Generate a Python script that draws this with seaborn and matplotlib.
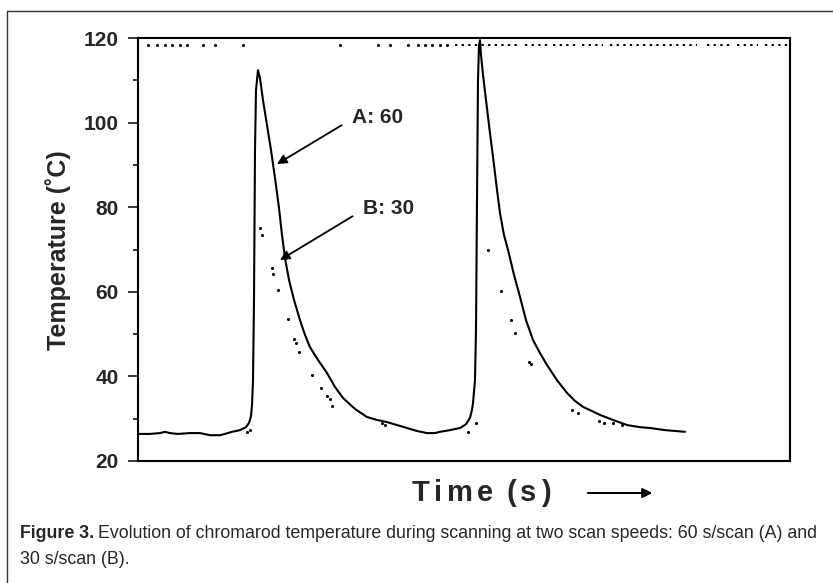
import numpy as np
import pandas as pd
import seaborn as sns
import matplotlib.pyplot as plt
from matplotlib import font_manager
from matplotlib.lines import Line2D

# curve A : 60 s/scan (solid trace)
time_a = [0, 2.4, 4.4, 5.4, 6.4, 8.0, 10.4, 12.4, 14.4, 16.4, 17.4, 18.8, 20.4, 21.6, 22.2,
          22.6, 22.8, 23.0, 23.2, 23.4, 23.6, 24.0, 24.4, 25.0, 25.8, 26.6, 27.4, 28.2, 28.8,
          29.4, 30.2, 31.2, 32.4, 33.4, 34.4, 36.0, 37.8, 39.4, 41.0, 43.4, 45.8, 47.8, 49.8,
          51.8, 53.8, 55.8, 57.8, 59.4, 60.4, 62.4, 64.4, 65.6, 66.4, 66.8, 67.0, 67.4, 67.6,
          67.8, 68.0, 68.2, 68.4, 68.6, 69.0, 69.6, 70.4, 71.2, 71.8, 72.4, 73.2, 74.0, 75.2,
          76.4, 77.6, 79.0, 80.4, 81.8, 83.8, 85.8, 87.4, 89.0, 90.8, 92.4, 95.0, 97.8, 100.4,
          102.4, 105.4, 107.4, 109.4]
temp_a = [26.4, 26.4, 26.6, 26.9, 26.6, 26.4, 26.6, 26.6, 26.1, 26.1, 26.4, 26.9, 27.3, 28.0, 29.0,
          30.6, 33.2, 39.1, 58.1, 93.5, 107.7, 112.4, 110.5, 105.3, 99.4, 93.5, 86.9, 79.8, 73.4,
          68.0, 62.8, 58.1, 53.3, 49.8, 46.9, 43.9, 40.8, 37.5, 34.9, 32.3, 30.4, 29.7, 29.2,
          28.5, 27.8, 27.1, 26.6, 26.6, 26.9, 27.3, 27.8, 28.7, 30.2, 32.1, 33.7, 39.1, 50.9,
          81.7, 110.1, 118.3, 119.5, 116.0, 111.3, 105.3, 97.5, 90.0, 84.1, 78.6, 73.4, 69.9, 64.0,
          58.8, 53.3, 48.6, 45.5, 42.7, 39.1, 36.1, 34.2, 32.8, 31.8, 30.9, 29.7, 28.5, 28.0,
          27.8, 27.3, 27.1, 26.9]

# curve B : 30 s/scan (dots)
time_b = [21.8, 22.4, 24.4, 24.8, 26.8, 27.0, 28.0, 30.0, 31.2, 31.6, 32.2, 34.8, 36.6, 37.8,
          38.4, 38.8, 48.8, 49.4, 66.0, 67.6, 70.0, 72.6, 74.6, 75.4, 78.2, 78.6, 86.8, 88.0,
          92.2, 93.2, 95.0, 96.8]
temp_b = [26.9, 27.3, 75.1, 73.4, 65.6, 64.2, 60.4, 53.6, 48.8, 47.9, 45.8, 40.3, 37.3, 35.4,
          34.7, 33.0, 29.0, 28.5, 26.9, 29.0, 69.9, 60.2, 53.3, 50.3, 43.4, 42.9, 32.1, 31.3,
          29.4, 29.0, 29.0, 28.5]

# off-scale dots of B along the top
top_level = 118.3
top_single = [2.0, 3.8, 5.4, 6.8, 8.4, 9.8, 13.0, 15.4, 21.0, 40.4, 48.0, 50.4, 54.0, 56.0,
              57.4, 58.8, 60.4, 61.8]
top_seg_start = [63.4, 77.4, 83.0, 88.8, 94.4, 113.8, 119.8, 125.4]
top_seg_end = [75.8, 82.4, 87.8, 93.0, 111.8, 118.4, 124.0, 130.0]

y_ticks = [20, 40, 60, 80, 100, 120]
y_minor = [30, 50, 70, 90, 110]

sns.set_theme(style='white')
plt.rcParams['font.family'] = ['Liberation Sans', 'DejaVu Sans']

fig = plt.figure(figsize=(8.33, 5.83), dpi=100)
ax = fig.add_axes([138 / 833, 1 - 461 / 583, 652 / 833, 423 / 583])

sns.lineplot(x=time_a, y=temp_a, sort=False, estimator=None, color='black', lw=1.5, ax=ax)
sns.scatterplot(x=time_b, y=temp_b, color='black', s=5, linewidth=0, ax=ax)
sns.scatterplot(x=top_single, y=[top_level] * len(top_single), color='black', s=5, linewidth=0, ax=ax)
ax.hlines([top_level] * len(top_seg_start), top_seg_start, top_seg_end, colors='black',
          linestyles=(0, (1.2, 2.2)), lw=1.4)

ax.set_xlim(0, 130.4)
ax.set_ylim(20, 120)
ax.set_xticks([])
ax.set_yticks(y_ticks)
ax.set_yticks(y_minor, minor=True)
ax.tick_params(axis='y', which='major', direction='out', length=7, width=1.1, pad=7,
               left=True, labelsize=15, color='black')
ax.tick_params(axis='y', which='minor', direction='out', length=3.5, width=1.1, left=True, color='black')
for lab in ax.get_yticklabels():
    lab.set_fontweight('bold')
for sp in ax.spines.values():
    sp.set_color('black')
    sp.set_linewidth(1.5)
ax.set_xlabel('')
ax.set_ylabel('')

# annotations
ax.annotate('A: 60', xy=(27.8, 90.2), xytext=(42.8, 101.3), fontsize=15, fontweight='bold',
            va='center', ha='left',
            arrowprops=dict(arrowstyle='-|>', color='black', lw=1.3, mutation_scale=14,
                            shrinkA=6, shrinkB=0, relpos=(0, 0.4)))
ax.annotate('B: 30', xy=(28.4, 67.5), xytext=(45.0, 79.8), fontsize=15, fontweight='bold',
            va='center', ha='left',
            arrowprops=dict(arrowstyle='-|>', color='black', lw=1.3, mutation_scale=14,
                            shrinkA=6, shrinkB=0, relpos=(0, 0.4)))

# axis titles
fig.text(58 / 833, 1 - 250 / 583, 'Temperature (˚C)', rotation=90, fontsize=18,
         fontweight='bold', ha='center', va='center')

renderer = fig.canvas.get_renderer()

# "Time (s)" is slightly letter-spaced in the original
x_px = 412
for ch in 'Time (s)':
    t = fig.text(x_px / 833, 1 - 493 / 583, ch, fontsize=21, fontweight='bold',
                 ha='left', va='center')
    w = t.get_window_extent(renderer).width if ch != ' ' else 8
    x_px += w + (4.5 if ch != ' ' else 0)
fig.add_artist(plt.annotate('', xy=(652 / 833, 1 - 493 / 583), xytext=(588 / 833, 1 - 493 / 583),
                            xycoords='figure fraction', textcoords='figure fraction',
                            arrowprops=dict(arrowstyle='-|>', color='black', lw=1.3,
                                            mutation_scale=14, shrinkA=0, shrinkB=0)))

# caption
if 'Liberation Sans Narrow' in font_manager.get_font_names():
    cap_font, cap_size = ['Liberation Sans Narrow'], 15
else:
    cap_font, cap_size = ['Liberation Sans'], 12.8
head = fig.text(20 / 833, 1 - 534 / 583, 'Figure 3.', fontsize=cap_size, fontweight='bold',
                family=cap_font, va='center', ha='left')
head_w = head.get_window_extent(renderer).width
fig.text((20 + head_w + 4) / 833, 1 - 534 / 583,
         'Evolution of chromarod temperature during scanning at two scan speeds: 60 s/scan (A) and',
         fontsize=cap_size, family=cap_font, va='center', ha='left')
fig.text(20 / 833, 1 - 560 / 583, '30 s/scan (B).', fontsize=cap_size, family=cap_font,
         va='center', ha='left')

# outer frame
fig.add_artist(Line2D([7 / 833, 7 / 833], [0, 1 - 11 / 583], transform=fig.transFigure,
                      color='#333333', lw=1.0))
fig.add_artist(Line2D([7 / 833, 1], [1 - 11 / 583, 1 - 11 / 583], transform=fig.transFigure,
                      color='#333333', lw=1.0))

fig.savefig('out.png', dpi=100)
